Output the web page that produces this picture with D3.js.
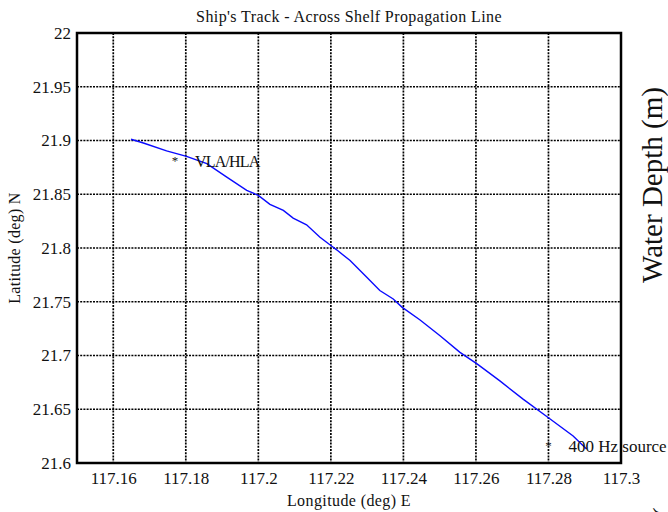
<!DOCTYPE html>
<html>
<head>
<meta charset="utf-8">
<script src="https://cdn.jsdelivr.net/npm/d3@7"></script>
<style>
  body { margin: 0; background: #fff; }
  svg text { font-family: "Liberation Serif", "Times New Roman", serif; fill: #111; }
</style>
</head>
<body>
<div id="chart"></div>
<script>
// ship track (lon, lat)
const trackLon = [117.1649, 117.1683, 117.1747, 117.1802, 117.1858, 117.1913, 117.1968, 117.2000,
    117.2032, 117.2069, 117.2096, 117.2133, 117.2170, 117.2200, 117.2216, 117.2253, 117.2299,
    117.2335, 117.2372, 117.2396, 117.2446, 117.2501, 117.2556, 117.2604, 117.2666, 117.2730,
    117.2799, 117.2868, 117.2905]
const trackLat = [21.9012, 21.8977, 21.8903, 21.8853, 21.8785, 21.8660, 21.8536, 21.8490,
    21.8406, 21.8350, 21.8278, 21.8216, 21.8100, 21.8023, 21.7983, 21.7883, 21.7728,
    21.7604, 21.7526, 21.7450, 21.7330, 21.7184, 21.7029, 21.6920, 21.6764, 21.6594,
    21.6423, 21.6252, 21.6130]

const xTicks = [117.16, 117.18, 117.2, 117.22, 117.24, 117.26, 117.28, 117.3]
const yTicks = [21.6, 21.65, 21.7, 21.75, 21.8, 21.85, 21.9, 21.95, 22]

const markLabels = ["VLA/HLA", "400 Hz source"]
const markLon = [117.177, 117.28]
const markLat = [21.8825, 21.6174]

function drawTrack() {
    var width = 668,
        height = 512,
        margin = { top: 33, right: 47, bottom: 50, left: 77 },
        serif = "'Liberation Serif', 'Times New Roman', serif";

    var svg = d3.select('#chart')
        .append("svg")
        .attr("width", width)
        .attr("height", height);

    var x = d3.scaleLinear().domain([117.15, 117.3]).range([margin.left, width - margin.right]);
    var y = d3.scaleLinear().domain([21.6, 22]).range([height - margin.bottom + 1, margin.top]);

    var x0 = x.range()[0], x1 = x.range()[1], y0 = y.range()[0], y1 = y.range()[1];

    // dotted grid
    svg.append("g").selectAll("line")
        .data(xTicks.filter(d => d < 117.3))
        .enter().append("line")
        .attr("x1", d => x(d)).attr("x2", d => x(d))
        .attr("y1", y1).attr("y2", y0)
        .attr("stroke", "#000").attr("stroke-width", 1.7)
        .attr("stroke-dasharray", "2,1.2");

    svg.append("g").selectAll("line")
        .data(yTicks.filter(d => d > 21.6 && d < 22))
        .enter().append("line")
        .attr("y1", d => y(d)).attr("y2", d => y(d))
        .attr("x1", x0).attr("x2", x1)
        .attr("stroke", "#000").attr("stroke-width", 1.7)
        .attr("stroke-dasharray", "2,1.2");

    // track
    var pts = trackLon.map((d, i) => [d, trackLat[i]]);
    svg.append("path")
        .datum(pts)
        .attr("fill", "none")
        .attr("stroke", "#0a0aff")
        .attr("stroke-width", 1.4)
        .attr("d", d3.line().x(d => x(d[0])).y(d => y(d[1])));

    // axes
    var fmt = d => String(+d.toFixed(2));
    var xAxis = d3.axisBottom(x).tickValues(xTicks).tickSize(0).tickPadding(9).tickFormat(fmt);
    var yAxis = d3.axisLeft(y).tickValues(yTicks).tickSize(0).tickPadding(6).tickFormat(fmt);

    svg.append("g")
        .attr("transform", `translate(0,${y0})`)
        .call(xAxis)
        .attr("font-family", serif)
        .attr("font-size", 17)
        .call(g => g.select(".domain").remove())
        .selectAll("text")
        .attr("fill", "#111");

    svg.append("g")
        .attr("transform", `translate(${x0},0)`)
        .call(yAxis)
        .attr("font-family", serif)
        .attr("font-size", 17)
        .call(g => g.select(".domain").remove())
        .selectAll("text")
        .attr("fill", "#111");

    // frame
    svg.append("rect")
        .attr("x", x0).attr("y", y1)
        .attr("width", x1 - x0).attr("height", y0 - y1)
        .attr("fill", "none").attr("stroke", "#000").attr("stroke-width", 2.5);

    // marks
    svg.append("g").selectAll("text")
        .data(markLabels)
        .enter().append("text")
        .attr("x", (d, i) => x(markLon[i]))
        .attr("y", (d, i) => y(markLat[i]) + 6)
        .attr("text-anchor", "middle")
        .style("font-size", "13px")
        .attr("fill", "#333")
        .text("*");

    svg.append("g").selectAll("text.lab")
        .data(markLabels)
        .enter().append("text")
        .attr("class", "lab")
        .attr("x", (d, i) => x(markLon[i]) + 20)
        .attr("y", (d, i) => y(markLat[i]) + 8)
        .style("font-size", (d, i) => i === 0 ? "16px" : "17px")
        .style("letter-spacing", (d, i) => i === 0 ? "-0.8px" : "0px")
        .attr("fill", "#222")
        .text(d => d);

    // titles
    svg.append("text")
        .attr("x", (x0 + x1) / 2 + 0).attr("y", 22)
        .attr("text-anchor", "middle")
        .style("font-size", "16px")
        .style("letter-spacing", "0.4px")
        .text("Ship's Track - Across Shelf Propagation Line");

    svg.append("text")
        .attr("x", (x0 + x1) / 2).attr("y", 506)
        .attr("text-anchor", "middle")
        .style("font-size", "16px")
        .style("letter-spacing", "0.4px")
        .text("Longitude (deg) E");

    svg.append("text")
        .attr("transform", `translate(20,${(y0 + y1) / 2}) rotate(-90)`)
        .attr("text-anchor", "middle")
        .style("font-size", "16px")
        .style("letter-spacing", "0.3px")
        .text("Latitude (deg) N");

    // cut-off label from the neighbouring panel
    svg.append("text")
        .attr("transform", "translate(662,185) rotate(-90)")
        .attr("text-anchor", "middle")
        .style("font-size", "29px")
        .attr("fill", "#222")
        .text("Water Depth (m)");

    svg.append("text")
        .attr("transform", "translate(672,512) rotate(-90)")
        .attr("text-anchor", "middle")
        .style("font-size", "28px")
        .attr("fill", "#222")
        .text("(");
}

drawTrack()
</script>
</body>
</html>
